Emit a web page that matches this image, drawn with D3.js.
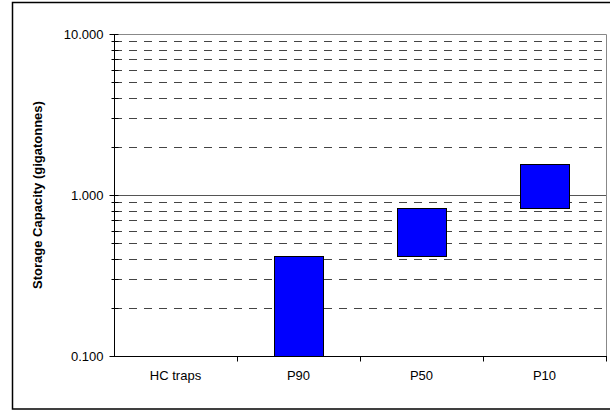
<!DOCTYPE html>
<html>
<head>
<meta charset="utf-8">
<script src="https://cdn.jsdelivr.net/npm/d3@7"></script>
<style>
  html, body { margin: 0; padding: 0; background: #fff; }
  svg { display: block; font-family: "Liberation Sans", Arial, sans-serif; }
</style>
</head>
<body>
<svg id="chart" width="610" height="411"></svg>
<script>
// Storage capacity ranges per category (gigatonnes), drawn as floating bars
const categories = ["HC traps", "P90", "P50", "P10"];
const lowValues  = [null, 0.1, 0.42, 0.83];
const highValues = [null, 0.42, 0.83, 1.56];
const yTickValues = [0.1, 1, 10];
const yTickLabels = ["0.100", "1.000", "10.000"];
const yTitle = "Storage Capacity (gigatonnes)";

const svg = d3.select("#chart");
const plot = { left: 114, right: 606, top: 34, bottom: 356 };

// outer frame (runs off the right edge)
svg.append("rect")
  .attr("x", 12.5).attr("y", 2.5)
  .attr("width", 620).attr("height", 406.5)
  .attr("fill", "none").attr("stroke", "#000").attr("stroke-width", 1.5);

const x = d3.scaleBand().domain(categories).range([plot.left, plot.right]).paddingInner(0).paddingOuter(0);
const y = d3.scaleLog().domain([0.1, 10]).range([plot.bottom, plot.top]);

// minor values for dashed gridlines and minor ticks
const minor = [];
[0.1, 1].forEach(dec => { for (let k = 2; k <= 9; k++) minor.push(dec * k); });

const g = svg.append("g");

// dashed minor gridlines
g.selectAll("line.minor").data(minor).join("line")
  .attr("class", "minor")
  .attr("x1", plot.left).attr("x2", plot.right)
  .attr("y1", d => Math.round(y(d)) + 0.5).attr("y2", d => Math.round(y(d)) + 0.5)
  .attr("stroke", "#444").attr("stroke-width", 1)
  .attr("stroke-dasharray", "8,7");

// solid major gridline at 1
g.append("line")
  .attr("x1", plot.left).attr("x2", plot.right)
  .attr("y1", Math.round(y(1)) + 0.5).attr("y2", Math.round(y(1)) + 0.5)
  .attr("stroke", "#555").attr("stroke-width", 1);

// plot frame (top and right in grey)
g.append("path")
  .attr("d", `M${plot.left},${plot.top + 0.5}H${plot.right + 0.5}V${plot.bottom}`)
  .attr("fill", "none").attr("stroke", "#888").attr("stroke-width", 1);

// bars
const barW = 49;
const rows = categories.map((c, i) => ({ c, lo: lowValues[i], hi: highValues[i] })).filter(d => d.hi != null);
g.selectAll("rect.bar").data(rows).join("rect")
  .attr("class", "bar")
  .attr("x", d => Math.round(x(d.c) + x.bandwidth() / 2 - barW / 2) + 0.5)
  .attr("width", barW)
  .attr("y", d => Math.round(y(d.hi)) + 0.5)
  .attr("height", d => Math.round(y(d.lo)) - Math.round(y(d.hi)))
  .attr("fill", "#0000ff").attr("stroke", "#000").attr("stroke-width", 1);

// y axis
const yAxis = d3.axisLeft(y).tickValues(yTickValues)
  .tickFormat((d, i) => yTickLabels[i]).tickSize(5).tickPadding(5);
const ya = svg.append("g").attr("transform", `translate(${plot.left + 0.5},0)`).call(yAxis);
ya.select(".domain").attr("stroke", "#000").attr("d", `M0,${plot.top}V${plot.bottom}`);
ya.selectAll(".tick text").attr("font-size", 13).attr("fill", "#000").attr("x", -11);
// minor cross ticks
ya.selectAll("line.mt").data(minor).join("line")
  .attr("class", "mt")
  .attr("x1", -3).attr("x2", 4)
  .attr("y1", d => Math.round(y(d)) + 0.5).attr("y2", d => Math.round(y(d)) + 0.5)
  .attr("stroke", "#000");
// major ticks cross into plot too
ya.selectAll(".tick line").attr("x1", -5).attr("x2", 4).attr("stroke", "#000");

// x axis
const xa = svg.append("g").attr("transform", `translate(0,${plot.bottom + 0.5})`)
  .call(d3.axisBottom(x).tickSize(0).tickPadding(14));
xa.select(".domain").attr("stroke", "#000").attr("d", `M${plot.left},0H${plot.right + 1}`);
xa.selectAll(".tick text").attr("font-size", 13).attr("fill", "#000");
// boundary ticks between categories
const bounds = categories.map(c => x(c)).slice(1).concat([plot.right]);
xa.selectAll("line.bt").data(bounds).join("line")
  .attr("class", "bt")
  .attr("x1", d => Math.round(d) + 0.5).attr("x2", d => Math.round(d) + 0.5)
  .attr("y1", 0).attr("y2", 5).attr("stroke", "#000");

// y title
svg.append("text")
  .attr("transform", `translate(42,${(plot.top + plot.bottom) / 2}) rotate(-90)`)
  .attr("text-anchor", "middle")
  .attr("font-size", 13).attr("font-weight", "bold")
  .text(yTitle);
</script>
</body>
</html>
